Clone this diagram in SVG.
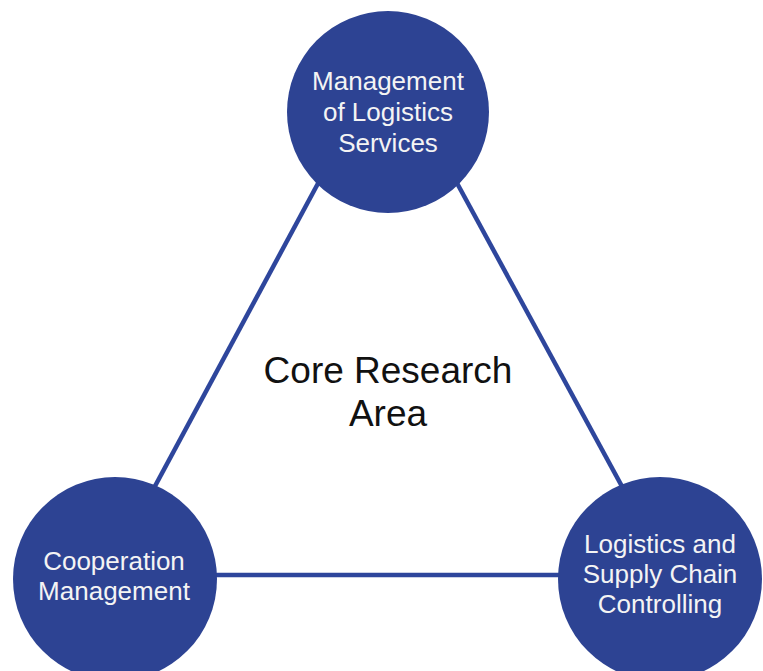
<svg xmlns="http://www.w3.org/2000/svg" width="763" height="671" viewBox="0 0 763 671">
<style>
.node{fill:#2D4393;}
.edge{stroke:#2E469C;stroke-width:4.5;fill:none;}
.lbl{font-family:"Liberation Sans",Arial,sans-serif;font-size:26px;fill:#F4F4F4;text-anchor:middle;}
.core{font-family:"Liberation Sans",Arial,sans-serif;font-size:37px;fill:#111111;text-anchor:middle;}
</style>
<rect width="763" height="671" fill="#FFFFFF"/>
<g id="connectors">
<line class="edge" x1="336" y1="150" x2="140" y2="514"/>
<line class="edge" x1="439" y1="150" x2="637" y2="514"/>
<line class="edge" x1="200" y1="575" x2="580" y2="575"/>
</g>
<g id="core">
<text class="core" x="388" y="383">Core Research</text>
<text class="core" x="388" y="426">Area</text>
</g>
<g id="node-management-logistics-services">
<circle class="node" cx="388" cy="112" r="101"/>
<text class="lbl" x="388" y="90">Management</text>
<text class="lbl" x="388" y="121">of Logistics</text>
<text class="lbl" x="388" y="152">Services</text>
</g>
<g id="node-cooperation-management">
<circle class="node" cx="115" cy="579" r="102"/>
<text class="lbl" x="114" y="570">Cooperation</text>
<text class="lbl" x="114" y="600">Management</text>
</g>
<g id="node-logistics-supply-chain-controlling">
<circle class="node" cx="660" cy="579" r="102"/>
<text class="lbl" x="660" y="553">Logistics and</text>
<text class="lbl" x="660" y="583">Supply Chain</text>
<text class="lbl" x="660" y="613">Controlling</text>
</g>
</svg>
